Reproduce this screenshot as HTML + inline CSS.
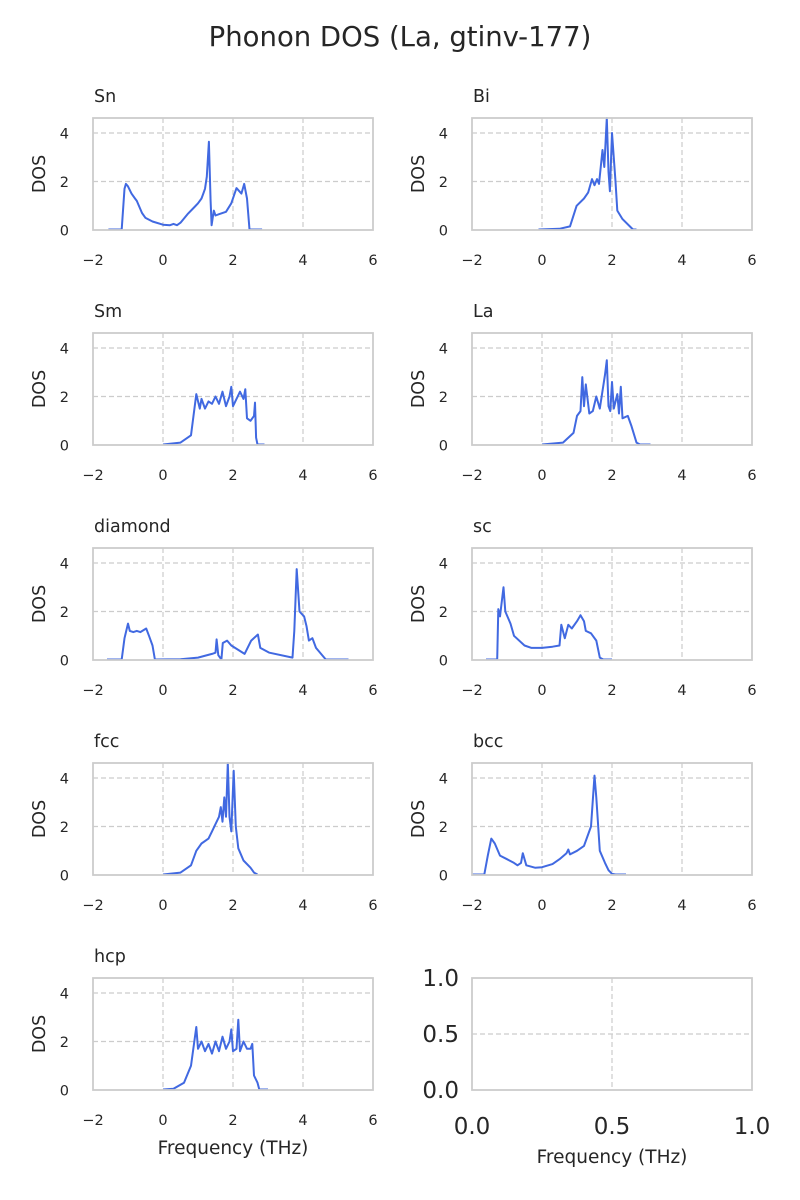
<!DOCTYPE html>
<html><head><meta charset="utf-8"><style>
body{margin:0;background:#fff;}
svg{display:block;font-family:"DejaVu Sans","Liberation Sans",sans-serif;}
</style></head><body>
<svg id="fig" width="800" height="1200" viewBox="0 0 800 1200" xmlns="http://www.w3.org/2000/svg">
<text x="400" y="46" text-anchor="middle" font-size="27.5" fill="#262626">Phonon DOS (La, gtinv-177)</text>
</svg>
<script>
const panelNames = ["Sn","Bi","Sm","La","diamond","sc","fcc","bcc","hcp"];
const xTicks = [-2,0,2,4,6];
const yTicks = [0,2,4];
const snX = [-1.56,-1.18,-1.1,-1.06,-1.0,-0.9,-0.8,-0.75,-0.6,-0.5,-0.3,0,0.2,0.3,0.4,0.5,0.7,0.9,1.0,1.1,1.15,1.2,1.25,1.31,1.36,1.39,1.45,1.5,1.6,1.8,1.95,2.1,2.24,2.32,2.4,2.47,2.83];
const snY = [0.02,0.02,1.7,1.9,1.8,1.5,1.3,1.2,0.7,0.5,0.35,0.22,0.2,0.25,0.2,0.3,0.65,0.95,1.1,1.3,1.5,1.7,2.2,3.64,1.2,0.2,0.8,0.6,0.65,0.75,1.1,1.73,1.5,1.9,1.3,0.02,0.02];
const biX = [-0.1,0.5,0.8,0.99,1.2,1.32,1.43,1.5,1.57,1.63,1.73,1.78,1.85,1.9,1.94,2.0,2.1,2.15,2.3,2.6,2.7];
const biY = [0.02,0.05,0.15,1.0,1.3,1.55,2.1,1.85,2.1,1.9,3.3,2.6,4.7,2.4,1.6,4.0,2.0,0.8,0.45,0.02,0.02];
const smX = [0,0.5,0.8,0.95,1.05,1.1,1.2,1.3,1.4,1.5,1.6,1.7,1.8,1.9,1.95,2.0,2.1,2.2,2.3,2.35,2.4,2.5,2.6,2.63,2.66,2.7,2.9];
const smY = [0.02,0.1,0.4,2.1,1.5,1.9,1.5,1.8,1.7,2.0,1.7,2.2,1.6,2.0,2.4,1.6,1.9,2.2,1.9,2.3,1.1,1.0,1.2,1.75,0.3,0.02,0.02];
const laX = [0,0.6,0.9,1.0,1.1,1.15,1.2,1.25,1.35,1.45,1.55,1.65,1.8,1.85,1.9,1.95,2.0,2.05,2.15,2.2,2.25,2.3,2.45,2.55,2.7,2.8,3.1];
const laY = [0.02,0.1,0.5,1.2,1.4,2.8,1.6,2.5,1.3,1.4,2.0,1.5,2.9,3.5,1.6,1.4,2.6,1.5,2.1,1.3,2.4,1.1,1.2,0.8,0.1,0.02,0.02];
const diX = [-1.6,-1.18,-1.1,-1.0,-0.95,-0.85,-0.75,-0.65,-0.48,-0.4,-0.3,-0.23,0.5,1.0,1.4,1.5,1.53,1.58,1.67,1.71,1.83,1.95,2.33,2.52,2.71,2.78,3.04,3.7,3.75,3.82,3.9,4.03,4.1,4.17,4.27,4.37,4.65,5.3];
const diY = [0.02,0.02,0.9,1.5,1.2,1.15,1.2,1.15,1.3,1.0,0.6,0.02,0.03,0.1,0.25,0.3,0.85,0.2,0.02,0.7,0.8,0.6,0.25,0.8,1.05,0.5,0.3,0.1,1.2,3.75,2.0,1.8,1.4,0.8,0.9,0.5,0.02,0.02];
const scX = [-1.6,-1.28,-1.25,-1.2,-1.1,-1.05,-0.9,-0.8,-0.5,-0.3,0,0.3,0.5,0.55,0.65,0.75,0.85,1.0,1.1,1.2,1.25,1.4,1.55,1.65,1.75,2.0];
const scY = [0.02,0.02,2.1,1.8,3.0,2.0,1.5,1.0,0.6,0.5,0.5,0.55,0.6,1.45,0.9,1.45,1.3,1.6,1.85,1.6,1.2,1.1,0.8,0.1,0.02,0.02];
const fccX = [0,0.5,0.8,0.95,1.1,1.3,1.4,1.5,1.6,1.65,1.7,1.75,1.8,1.85,1.9,1.95,2.02,2.08,2.15,2.3,2.5,2.6,2.7];
const fccY = [0.02,0.1,0.4,1.0,1.3,1.5,1.8,2.1,2.4,2.8,2.2,3.2,2.4,4.7,2.4,1.8,4.3,2.0,1.1,0.6,0.3,0.1,0.02];
const bccX = [-2,-1.65,-1.55,-1.45,-1.35,-1.2,-1.0,-0.8,-0.7,-0.6,-0.55,-0.45,-0.2,0,0.3,0.5,0.7,0.75,0.8,1.0,1.2,1.4,1.5,1.55,1.65,1.8,1.9,2.0,2.1,2.4];
const bccY = [0.02,0.02,0.8,1.5,1.3,0.8,0.65,0.5,0.4,0.5,0.9,0.4,0.3,0.32,0.45,0.65,0.9,1.05,0.85,1.0,1.2,2.0,4.1,3.2,1.0,0.5,0.2,0.05,0.02,0.02];
const hcpX = [0,0.3,0.6,0.8,0.95,1.0,1.1,1.2,1.3,1.4,1.5,1.6,1.7,1.8,1.9,1.95,2.0,2.1,2.15,2.2,2.3,2.4,2.5,2.55,2.6,2.7,2.75,3.0];
const hcpY = [0.02,0.05,0.3,1.0,2.6,1.7,2.0,1.6,1.9,1.5,2.0,1.6,2.2,1.7,2.0,2.5,1.6,1.7,2.9,1.6,2.0,1.7,1.7,1.9,0.6,0.3,0.02,0.02];
const series = [[snX,snY],[biX,biY],[smX,smY],[laX,laY],[diX,diY],[scX,scY],[fccX,fccY],[bccX,bccY],[hcpX,hcpY]];
const emptyTicks = [0.0,0.5,1.0];

const NS="http://www.w3.org/2000/svg";
const svg=document.getElementById('fig');
function mk(tag,attrs,parent){const e=document.createElementNS(NS,tag);for(const k in attrs)e.setAttribute(k,attrs[k]);(parent||svg).appendChild(e);return e;}
const W=280,H=112,XMIN=-2,XMAX=6,YMAX=4.62;
function origin(i){return [i%2===0?93:472, 118+215*Math.floor(i/2)];}

for(let i=0;i<9;i++){
  const [ox,oy]=origin(i);
  const sx=v=>ox+(v-XMIN)/(XMAX-XMIN)*W;
  const sy=v=>oy+H-(v/YMAX)*H;
  const g=mk('g',{});
  
  
  xTicks.forEach(t=>{
    if(t>XMIN&&t<XMAX){const l=mk('line',{x1:sx(t),x2:sx(t),y1:oy,y2:oy+H,stroke:'#cccccc','stroke-width':1.2,'stroke-dasharray':'5,3'},g);
    
    }
    const tx=mk('text',{x:sx(t),y:oy+H+35,'text-anchor':'middle','font-size':14.5,fill:'#262626'},g);
    tx.textContent=(t<0?'\u2212'+(-t):t);
    
    
  });
  yTicks.forEach(t=>{
    if(t>0){const l=mk('line',{x1:ox,x2:ox+W,y1:sy(t),y2:sy(t),stroke:'#cccccc','stroke-width':1.2,'stroke-dasharray':'5,3'},g);
    
    }
    const tx=mk('text',{x:ox-24,y:sy(t)+5.5,'text-anchor':'end','font-size':14.5,fill:'#262626'},g);
    tx.textContent=t;
    
    
  });
  const [xs,ys]=series[i];
  const d=xs.map((x,j)=>(j?'L':'M')+sx(x).toFixed(1)+','+Math.max(oy,sy(ys[j])).toFixed(1)).join('');
  const p=mk('path',{d:d,fill:'none',stroke:'#4169e1','stroke-width':2,'stroke-linejoin':'round'},g);
  
  
  const fr=mk('rect',{x:ox,y:oy,width:W,height:H,fill:'none',stroke:'#cccccc','stroke-width':1.8},g);
  
  
  const ti=mk('text',{x:ox+1,y:oy-16,'font-size':17.5,fill:'#262626'},g);
  ti.textContent=panelNames[i];
  
  
  const yl=mk('text',{x:0,y:0,transform:`translate(${ox-48},${oy+H/2}) rotate(-90)`,'text-anchor':'middle','font-size':17.5,fill:'#262626'},g);
  yl.textContent='DOS';
  
  
  if(i===8){
    const xl=mk('text',{x:ox+W/2,y:oy+H+64,'text-anchor':'middle','font-size':18.5,fill:'#262626'},g);
    xl.textContent='Frequency (THz)';
    
    
  }
}
// empty panel
{
  const ox=472,oy=978;
  const sx=v=>ox+v*W, sy=v=>oy+H-v*H;
  const g=mk('g',{});
  
  
  const gl1=mk('line',{x1:sx(0.5),x2:sx(0.5),y1:oy,y2:oy+H,stroke:'#cccccc','stroke-width':1.2,'stroke-dasharray':'5,3'},g);
  
  
  const gl2=mk('line',{x1:ox,x2:ox+W,y1:sy(0.5),y2:sy(0.5),stroke:'#cccccc','stroke-width':1.2,'stroke-dasharray':'5,3'},g);
  
  
  emptyTicks.forEach(t=>{
    const a=mk('text',{x:sx(t),y:oy+H+44,'text-anchor':'middle','font-size':23,fill:'#262626'},g);
    a.textContent=t.toFixed(1);
    
    
    const b=mk('text',{x:ox-13,y:sy(t)+8,'text-anchor':'end','font-size':23,fill:'#262626'},g);
    b.textContent=t.toFixed(1);
    
    
  });
  const fr=mk('rect',{x:ox,y:oy,width:W,height:H,fill:'none',stroke:'#cccccc','stroke-width':1.8},g);
  
  
  const xl=mk('text',{x:ox+W/2,y:oy+H+73,'text-anchor':'middle','font-size':18.5,fill:'#262626'},g);
  xl.textContent='Frequency (THz)';
  
  
}
</script>
</body></html>
